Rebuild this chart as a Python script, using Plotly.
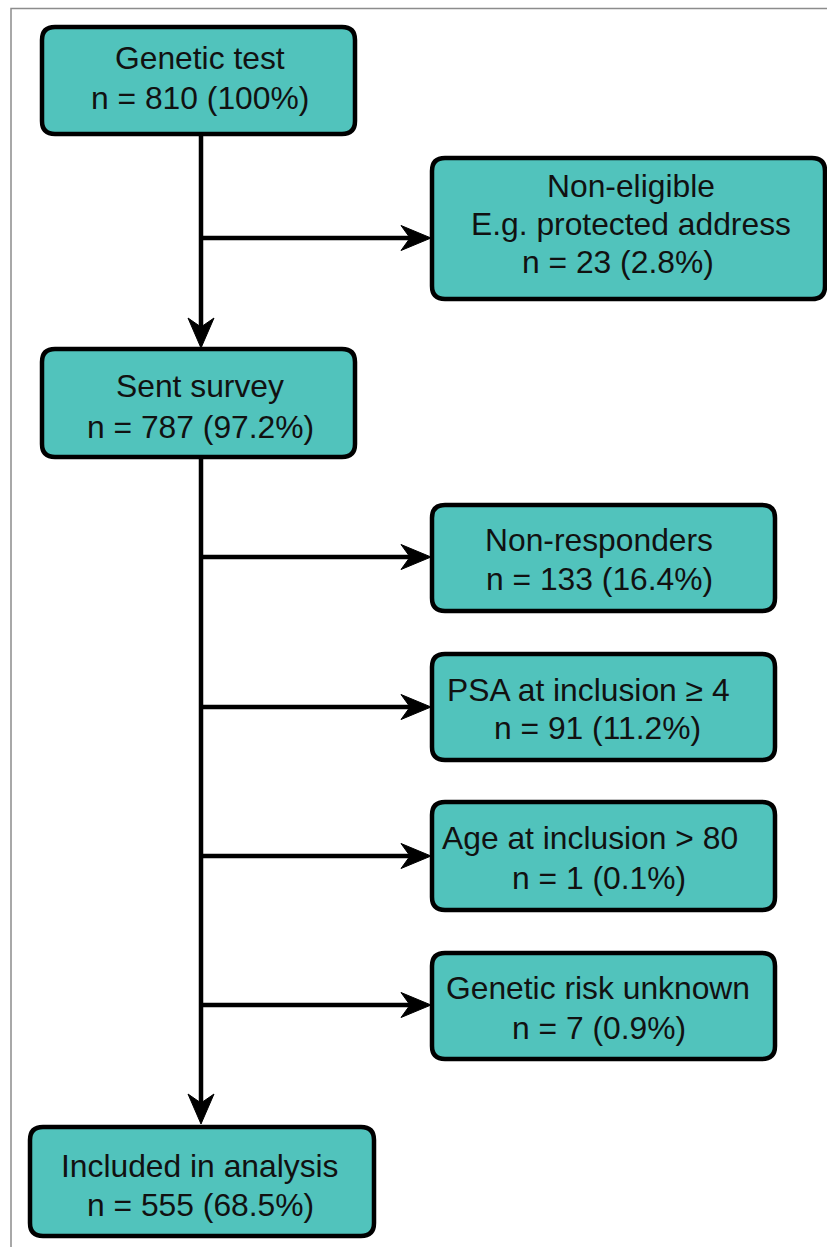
import plotly.graph_objects as go

# ---- data ----
titles = [
    ["Genetic test"],
    ["Non-eligible", "E.g. protected address"],
    ["Sent survey"],
    ["Non-responders"],
    ["PSA at inclusion \u2265 4"],
    ["Age at inclusion > 80"],
    ["Genetic risk unknown"],
    ["Included in analysis"],
]
counts = [810, 23, 787, 133, 91, 1, 7, 555]
percents = [100, 2.8, 97.2, 16.4, 11.2, 0.1, 0.9, 68.5]

# ---- layout (pixel space of the page) ----
W, H = 827, 1247
boxes = [  # x0, x1, y0, y1
    (42, 355, 27, 134),
    (432, 825, 158, 299),
    (42, 355, 349, 457),
    (432, 775, 505, 611),
    (432, 775, 654, 760),
    (432, 775, 802, 910),
    (432, 775, 953, 1059),
    (30, 374, 1127, 1236),
]
# text line centres (x per line, y per line)
text_x = [
    [200, 200], [631, 631, 618], [200, 200], [599, 599],
    [588, 597], [590, 599], [598, 599], [200, 200],
]
text_y = [
    [57.5, 98], [186, 224, 262], [386, 427], [540, 579],
    [690, 728], [838, 878], [988, 1028], [1166, 1205],
]
spine_x = 201
side_y = [238, 557, 707, 856, 1005]
side_tip_x = 431

FILL = "#51C3BC"
LINE = "#000000"
FONT = "Liberation Sans, Arial, Helvetica, sans-serif"
FS = 31.8

fig = go.Figure()
shapes = []
annotations = []


def rrect(x0, x1, y0, y1, r=13):
    return (f"M {x0+r},{y0} L {x1-r},{y0} Q {x1},{y0} {x1},{y0+r} "
            f"L {x1},{y1-r} Q {x1},{y1} {x1-r},{y1} L {x0+r},{y1} "
            f"Q {x0},{y1} {x0},{y1-r} L {x0},{y0+r} Q {x0},{y0} {x0+r},{y0} Z")


def head_down(x, tip):
    L, hw, notch = 30, 13, 9
    return (f"M {x},{tip} L {x-hw},{tip-L} L {x},{tip-L+notch} "
            f"L {x+hw},{tip-L} Z")


def head_right(tip, y):
    L, hw, notch = 30, 12.5, 9
    return (f"M {tip},{y} L {tip-L},{y-hw} L {tip-L+notch},{y} "
            f"L {tip-L},{y+hw} Z")


# frame
shapes.append(dict(type="rect", x0=11, x1=W + 5, y0=8.5, y1=H + 5,
                   line=dict(color="#8C8C8C", width=1.5), fillcolor="rgba(0,0,0,0)",
                   layer="below"))

# spine segments
LW = 4.5
shapes.append(dict(type="line", x0=spine_x, x1=spine_x, y0=boxes[0][3], y1=boxes[2][2] - 12,
                   line=dict(color=LINE, width=LW)))
shapes.append(dict(type="path", path=head_down(spine_x, boxes[2][2] - 1),
                   fillcolor=LINE, line=dict(color=LINE, width=1)))
shapes.append(dict(type="line", x0=spine_x, x1=spine_x, y0=boxes[2][3], y1=boxes[7][2] - 12,
                   line=dict(color=LINE, width=LW)))
shapes.append(dict(type="path", path=head_down(spine_x, boxes[7][2] - 3),
                   fillcolor=LINE, line=dict(color=LINE, width=1)))

# side arrows
for y in side_y:
    shapes.append(dict(type="line", x0=spine_x, x1=side_tip_x - 12, y0=y, y1=y,
                       line=dict(color=LINE, width=LW)))
    shapes.append(dict(type="path", path=head_right(side_tip_x, y),
                       fillcolor=LINE, line=dict(color=LINE, width=1)))

# boxes and text
for i, (x0, x1, y0, y1) in enumerate(boxes):
    shapes.append(dict(type="path", path=rrect(x0, x1, y0, y1), fillcolor=FILL,
                       line=dict(color=LINE, width=4.5)))
    lines = titles[i] + [f"n = {counts[i]} ({percents[i]:g}%)"]
    for j, t in enumerate(lines):
        annotations.append(dict(x=text_x[i][j], y=text_y[i][j], text=t, showarrow=False,
                                xanchor="center", yanchor="middle",
                                font=dict(family=FONT, size=FS, color="#111111")))

fig.update_layout(
    width=W, height=H, margin=dict(l=0, r=0, t=0, b=0),
    paper_bgcolor="white", plot_bgcolor="white",
    xaxis=dict(range=[0, W], visible=False, fixedrange=True),
    yaxis=dict(range=[H, 0], visible=False, fixedrange=True),
    shapes=shapes, annotations=annotations, showlegend=False,
)
fig.write_html(
    "out.html",
    config={"displayModeBar": False},
    post_script="document.body.style.margin='0px';"
                "document.body.style.overflow='hidden';"
                "document.documentElement.style.overflow='hidden';",
)
